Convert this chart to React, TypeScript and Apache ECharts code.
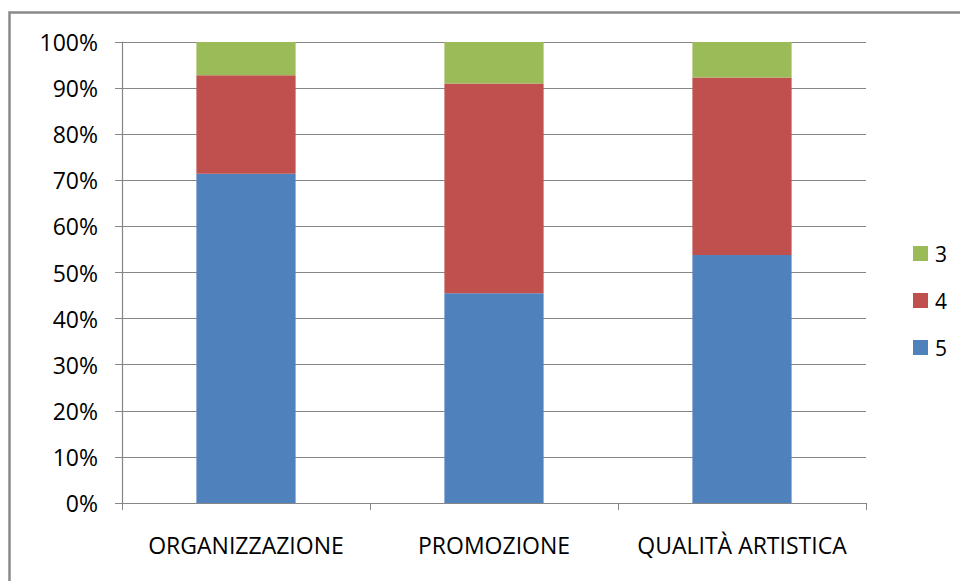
import React, { useEffect, useRef } from "react";
import * as echarts from "echarts";

const categories = ["ORGANIZZAZIONE", "PROMOZIONE", "QUALITÀ ARTISTICA"];
const series5 = [71.4, 45.5, 53.8];
const series4 = [21.4, 45.5, 38.5];
const series3 = [7.2, 9.0, 7.7];
const yTicks = [0, 10, 20, 30, 40, 50, 60, 70, 80, 90, 100];

const FONT = "'Open Sans', 'Noto Sans', sans-serif";

export default function App() {
  const ref = useRef<HTMLDivElement>(null);
  useEffect(() => {
    if (!ref.current) return;
    const chart = echarts.init(ref.current, undefined, { renderer: "svg" });
    const barCommon = {
      type: "bar" as const,
      stack: "total",
      barWidth: "40%",
    };
    chart.setOption({
      animation: false,
      backgroundColor: "#ffffff",
      textStyle: { fontFamily: FONT },
      graphic: [
        {
          type: "rect",
          shape: { x: 9.5, y: 12.5, width: 1000, height: 1000 },
          style: { fill: "none", stroke: "#8a8a8a", lineWidth: 2.5 },
          silent: true,
        },
      ],
      grid: { left: 122, right: 94, top: 42, bottom: 78 },
      legend: {
        orient: "vertical",
        left: 908,
        top: 238,
        data: ["3", "4", "5"],
        icon: "rect",
        itemWidth: 15,
        itemHeight: 15,
        itemGap: 26,
        textStyle: { fontSize: 21, color: "#000000", fontFamily: FONT, padding: [0, 0, 0, 2] },
      },
      xAxis: {
        type: "category",
        data: categories,
        axisLine: { show: true, lineStyle: { color: "#868686", width: 1.2 } },
        axisTick: { show: true, length: 7, lineStyle: { color: "#868686" } },
        axisLabel: { fontSize: 23, color: "#000000", margin: 30, fontFamily: FONT, interval: 0 },
      },
      yAxis: {
        type: "value",
        min: yTicks[0],
        max: yTicks[yTicks.length - 1],
        interval: 10,
        axisLine: { show: true, lineStyle: { color: "#868686", width: 1.2 } },
        axisTick: { show: true, inside: false, length: 7, lineStyle: { color: "#868686" } },
        splitLine: { show: true, lineStyle: { color: "#868686", width: 1.2 } },
        axisLabel: {
          fontSize: 23,
          color: "#000000",
          margin: 24,
          fontFamily: FONT,
          formatter: (v: number) => `${v}%`,
        },
      },
      series: [
        { ...barCommon, name: "5", data: series5, itemStyle: { color: "#4F81BD" } },
        { ...barCommon, name: "4", data: series4, itemStyle: { color: "#C0504D" } },
        { ...barCommon, name: "3", data: series3, itemStyle: { color: "#9BBB59" } },
      ],
    });
    return () => chart.dispose();
  }, []);
  return (
    <div
      ref={ref}
      style={{ position: "absolute", left: 0, top: 0, width: 960, height: 581, background: "#fff" }}
    />
  );
}
